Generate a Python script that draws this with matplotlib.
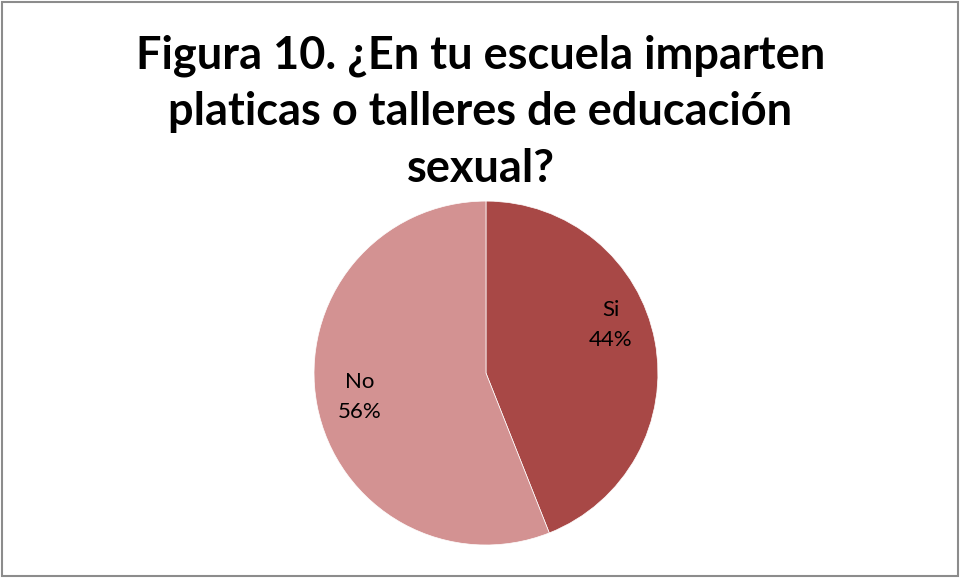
import matplotlib
matplotlib.use("Agg")
import matplotlib.pyplot as plt
from matplotlib.patches import Rectangle

categories = ["Si", "No"]
values = [44, 56]
colors = ["#A84846", "#D39292"]
title = "Figura 10. ¿En tu escuela imparten\nplaticas o talleres de educación\nsexual?"

plt.rcParams['font.family'] = ['Lato', 'DejaVu Sans']

fig = plt.figure(figsize=(9.61, 5.78), dpi=100)
fig.patch.set_facecolor("white")

# border
fig.patches.append(Rectangle((0.002, 0.003), 0.995, 0.994, transform=fig.transFigure,
                             fill=False, edgecolor="#8c8c8c", linewidth=1.5))

fig.text(0.5, 0.94, title, ha="center", va="top", fontsize=32.5, fontweight="bold",
         linespacing=1.42)

ax = fig.add_axes([0.3267, 0.0571, 0.358, 0.595])
wedges, _ = ax.pie(values, colors=colors, startangle=90, counterclock=False,
                   wedgeprops=dict(linewidth=0.5, edgecolor="white"), radius=1.0)
ax.set_xlim(-1, 1)
ax.set_ylim(-1, 1)
ax.set_aspect("equal")

label_pos = [(0.727, 0.279), (-0.733, -0.14)]
for cat, v, (x, y) in zip(categories, values, label_pos):
    ax.text(x, y, f"{cat}\n{v}%", ha="center", va="center", fontsize=16, linespacing=1.65)

fig.savefig("out.png", dpi=100, facecolor="white")
